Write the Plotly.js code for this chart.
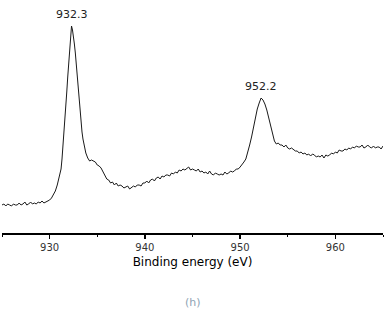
<!DOCTYPE html>
<html>
<head>
<meta charset="utf-8">
<script src="https://cdn.plot.ly/plotly-3.0.1.min.js"></script>
<style>
  html, body { margin: 0; padding: 0; background: #fff; }
  #chart { width: 387px; height: 312px; }
</style>
</head>
<body>
<div id="chart"></div>
<script>
// Cu 2p XPS spectrum: binding energy (eV) and intensity (a.u.)
const energy = [
  925.0, 925.2, 925.4, 925.6, 925.8, 926.0, 926.2, 926.4, 926.6, 926.8,
  927.0, 927.2, 927.4, 927.6, 927.8, 928.0, 928.2, 928.4, 928.6, 928.8,
  929.0, 929.2, 929.4, 929.6, 929.8, 930.0, 930.2, 930.4, 930.6, 930.8,
  931.0, 931.1, 931.2, 931.3, 931.4, 931.5, 931.6, 931.7, 931.8, 931.9,
  932.0, 932.1, 932.2, 932.3, 932.4, 932.5, 932.6, 932.7, 932.8, 932.9,
  933.0, 933.1, 933.2, 933.3, 933.4, 933.5, 933.6, 933.8,
  934.0, 934.2, 934.4, 934.6, 934.8, 935.0, 935.2, 935.4, 935.6, 935.8,
  936.0, 936.2, 936.4, 936.6, 936.8, 937.0, 937.2, 937.4, 937.6, 937.8,
  938.0, 938.2, 938.4, 938.6, 938.8, 939.0, 939.2, 939.4, 939.6, 939.8,
  940.0, 940.2, 940.4, 940.6, 940.8, 941.0, 941.2, 941.4, 941.6, 941.8,
  942.0, 942.2, 942.4, 942.6, 942.8, 943.0, 943.2, 943.4, 943.6, 943.8,
  944.0, 944.2, 944.4, 944.6, 944.8, 945.0, 945.2, 945.4, 945.6, 945.8,
  946.0, 946.2, 946.4, 946.6, 946.8, 947.0, 947.2, 947.4, 947.6, 947.8,
  948.0, 948.2, 948.4, 948.6, 948.8, 949.0, 949.2, 949.4, 949.6, 949.8,
  950.0, 950.2, 950.4, 950.6, 950.8, 951.0, 951.2, 951.4, 951.6, 951.8,
  952.0, 952.2, 952.4, 952.6, 952.8, 953.0, 953.2, 953.4, 953.6, 953.8,
  954.0, 954.2, 954.4, 954.6, 954.8, 955.0, 955.2, 955.4, 955.6, 955.8,
  956.0, 956.2, 956.4, 956.6, 956.8, 957.0, 957.2, 957.4, 957.6, 957.8,
  958.0, 958.2, 958.4, 958.6, 958.8, 959.0, 959.2, 959.4, 959.6, 959.8,
  960.0, 960.2, 960.4, 960.6, 960.8, 961.0, 961.2, 961.4, 961.6, 961.8,
  962.0, 962.2, 962.4, 962.6, 962.8, 963.0, 963.2, 963.4, 963.6, 963.8,
  964.0, 964.2, 964.4, 964.6, 964.8, 965.0
];
const intensity = [
  28, 29, 27, 29, 28, 27, 29, 28, 28, 30,
  28, 29, 31, 28, 29, 31, 29, 30, 29, 31,
  30, 32, 30, 31, 32, 33, 35, 38, 42, 48,
  55, 59, 64, 74, 86, 99, 113, 127, 141, 156,
  170, 182, 196, 207, 203, 197, 189, 180, 168, 157,
  145, 132, 120, 110, 101, 94, 88, 80,
  75, 72, 73, 72, 71, 68, 67, 65, 61, 58,
  54, 53, 50, 51, 48, 50, 47, 48, 47, 45,
  46, 47, 44, 46, 47, 46, 48, 48, 47, 50,
  50, 52, 50, 53, 54, 52, 55, 56, 54, 57,
  56, 58, 58, 57, 60, 59, 61, 60, 63, 62,
  64, 63, 65, 66, 63, 64, 63, 62, 64, 61,
  62, 60, 61, 59, 62, 59, 58, 60, 59, 58,
  59, 58, 61, 59, 60, 62, 61, 62, 64, 64,
  66, 68, 71, 74, 80, 88, 96, 106, 116, 124,
  130, 135, 133, 129, 123, 115, 106, 98, 92, 89,
  90, 88, 88, 86, 88, 85, 84, 85, 83, 82,
  82, 80, 81, 79, 80, 78, 79, 77, 79, 78,
  76, 77, 76, 78, 75, 78, 77, 78, 80, 79,
  81, 80, 83, 82, 82, 84, 83, 85, 84, 86,
  85, 87, 86, 86, 88, 85, 86, 88, 86, 85,
  87, 85, 86, 86, 84, 87
];

// Labelled peak maxima (Cu 2p3/2 and Cu 2p1/2)
const peakEnergy = [932.3, 952.2];
const peakIntensity = [207, 135];
const peakLabels = ['932.3', '952.2'];

const axisTitle = 'Binding energy (eV)';
const panelLabel = '(h)';

const trace = {
  x: energy,
  y: intensity,
  type: 'scatter',
  mode: 'lines',
  line: { color: '#1a1a1a', width: 1 },
  hoverinfo: 'skip'
};

const annotations = peakEnergy.map((e, i) => ({
  x: e,
  y: peakIntensity[i],
  xref: 'x',
  yref: 'y',
  text: peakLabels[i],
  showarrow: false,
  yanchor: 'bottom',
  yshift: 3,
  font: { family: 'DejaVu Sans, sans-serif', size: 11, color: '#222' }
}));

// panel label, positioned in paper units below the axis
annotations.push({
  x: 0.5,
  y: 1 - (302 - 16) / (312 - 16 - 79),
  xref: 'paper',
  yref: 'paper',
  yanchor: 'middle',
  text: panelLabel,
  showarrow: false,
  font: { family: 'DejaVu Sans, sans-serif', size: 11, color: '#8ea3b4' }
});

const layout = {
  width: 387,
  height: 312,
  margin: { l: 2, r: 4, t: 16, b: 79 },
  paper_bgcolor: '#ffffff',
  plot_bgcolor: '#ffffff',
  showlegend: false,
  xaxis: {
    range: [925, 965],
    showline: true,
    linecolor: '#000',
    linewidth: 1.5,
    showgrid: false,
    zeroline: false,
    ticks: 'outside',
    tick0: 930,
    dtick: 10,
    ticklen: 4,
    tickwidth: 1.5,
    tickcolor: '#000',
    minor: { tick0: 925, dtick: 5, ticks: 'outside', ticklen: 2, tickwidth: 1, tickcolor: '#000' },
    tickfont: { family: 'DejaVu Sans, sans-serif', size: 10, color: '#333' },
    automargin: true,
    title: {
      text: axisTitle,
      standoff: 6,
      font: { family: 'DejaVu Sans, sans-serif', size: 12, color: '#000' }
    }
  },
  yaxis: {
    range: [0, 217],
    visible: false
  },
  annotations: annotations
};

Plotly.newPlot('chart', [trace], layout, { displayModeBar: false, staticPlot: true });
</script>
</body>
</html>
